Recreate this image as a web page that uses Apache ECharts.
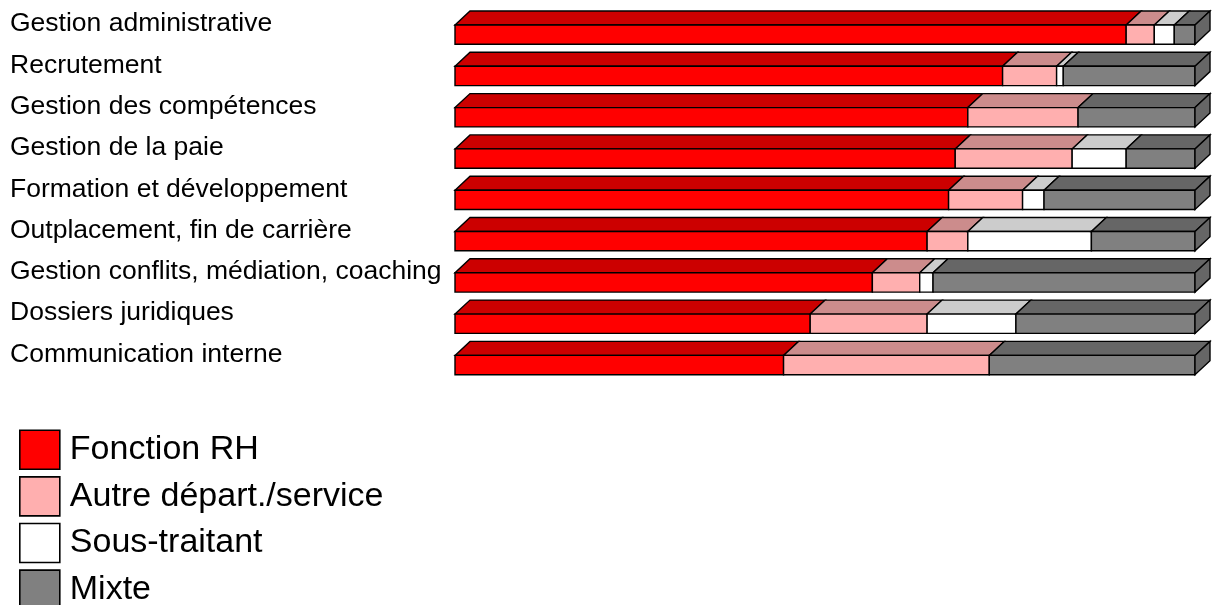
<!DOCTYPE html>
<html>
<head>
<meta charset="utf-8">
<script src="https://cdn.jsdelivr.net/npm/echarts@6/dist/echarts.min.js"></script>
<style>
  html, body { margin: 0; padding: 0; background: #ffffff; }
  #chart { width: 1212px; height: 605px; }
</style>
</head>
<body>
<div id="chart"></div>
<script>
// Activities, top to bottom
const categories = [
  'Gestion administrative',
  'Recrutement',
  'Gestion des compétences',
  'Gestion de la paie',
  'Formation et développement',
  'Outplacement, fin de carrière',
  'Gestion conflits, médiation, coaching',
  'Dossiers juridiques',
  'Communication interne'
];

const seriesNames = ['Fonction RH', 'Autre départ./service', 'Sous-traitant', 'Mixte'];

// Shares (%) per activity
const fonctionRH   = [90.7, 74.0, 69.3, 67.6, 66.7, 63.8, 56.4, 48.0, 44.4];
const autreService = [ 3.8,  7.3, 14.9, 15.8, 10.0,  5.5,  6.4, 15.8, 27.8];
const sousTraitant = [ 2.7,  0.9,  0.0,  7.3,  2.9, 16.7,  1.8, 12.0,  0.0];
const mixte        = [ 2.8, 17.8, 15.8,  9.3, 20.4, 14.0, 35.4, 24.2, 27.8];

// Face colours of each 3D segment: front, top, right side
const faceColors = [
  { front: '#ff0000', top: '#cc0000', side: '#cc0000' },
  { front: '#ffafaf', top: '#cc8c8c', side: '#cc8c8c' },
  { front: '#ffffff', top: '#cccccc', side: '#cccccc' },
  { front: '#808080', top: '#666666', side: '#666666' }
];

// Extrusion depth and front-face geometry relative to the band centre
const DX = 15, DY = 14, FRONT_TOP = 1, FRONT_H = 19.3;

const valueSets = [fonctionRH, autreService, sousTraitant, mixte];

// Stacked start/end of every segment, and the last visible segment per row
const lastSeg = [];
const stacked = valueSets.map(() => []);
categories.forEach((c, r) => {
  let acc = 0;
  valueSets.forEach((vals, s) => {
    const v = vals[r];
    stacked[s].push([r, acc, acc + v]);
    if (v > 0) lastSeg[r] = s;
    acc += v;
  });
});

function makeRenderer(s) {
  const col = faceColors[s];
  return function (params, api) {
    const row = api.value(0);
    const a = api.value(1);
    const b = api.value(2);
    if (!(b - a > 0)) return null;
    const p0 = api.coord([a, row]);
    const p1 = api.coord([b, row]);
    const x0 = p0[0], x1 = p1[0];
    const yT = p0[1] + FRONT_TOP;
    const yB = yT + FRONT_H;
    const line = { stroke: '#000000', lineWidth: 1.4, lineJoin: 'miter' };
    const children = [
      {
        type: 'polygon',
        shape: { points: [[x0, yT], [x0 + DX, yT - DY], [x1 + DX, yT - DY], [x1, yT]] },
        style: Object.assign({ fill: col.top }, line)
      },
      {
        type: 'rect',
        shape: { x: x0, y: yT, width: x1 - x0, height: FRONT_H },
        style: Object.assign({ fill: col.front }, line)
      }
    ];
    if (lastSeg[row] === s) {
      children.push({
        type: 'polygon',
        shape: { points: [[x1, yT], [x1 + DX, yT - DY], [x1 + DX, yB - DY], [x1, yB]] },
        style: Object.assign({ fill: col.side }, line)
      });
    }
    return { type: 'group', children: children };
  };
}

const FONT = "'Liberation Sans', Arial, sans-serif";

const chart = echarts.init(document.getElementById('chart'), null, { renderer: 'canvas' });

chart.setOption({
  animation: false,
  backgroundColor: '#ffffff',
  grid: { left: 455, right: 17, top: 3.35, height: 371.7, containLabel: false },
  xAxis: {
    type: 'value',
    min: 0,
    max: 100,
    show: false
  },
  yAxis: {
    type: 'category',
    data: categories,
    inverse: true,
    axisLine: { show: false },
    axisTick: { show: false },
    splitLine: { show: false },
    axisLabel: {
      align: 'left',
      margin: 445,
      fontSize: 26.5,
      fontFamily: FONT,
      color: '#000000'
    }
  },
  legend: {
    data: seriesNames,
    orient: 'vertical',
    left: 19,
    top: 429.5,
    height: 200,
    padding: 0,
    icon: 'rect',
    itemWidth: 40,
    itemHeight: 39,
    itemGap: 6,
    selectedMode: false,
    itemStyle: { borderColor: '#000000', borderWidth: 1.6 },
    textStyle: {
      fontSize: 34,
      fontFamily: FONT,
      color: '#000000',
      padding: [0, 0, 0, 5]
    }
  },
  series: seriesNames.map((name, s) => ({
    type: 'custom',
    name: name,
    itemStyle: { color: faceColors[s].front },
    encode: { x: [1, 2], y: 0 },
    data: stacked[s],
    renderItem: makeRenderer(s)
  }))
});
</script>
</body>
</html>
